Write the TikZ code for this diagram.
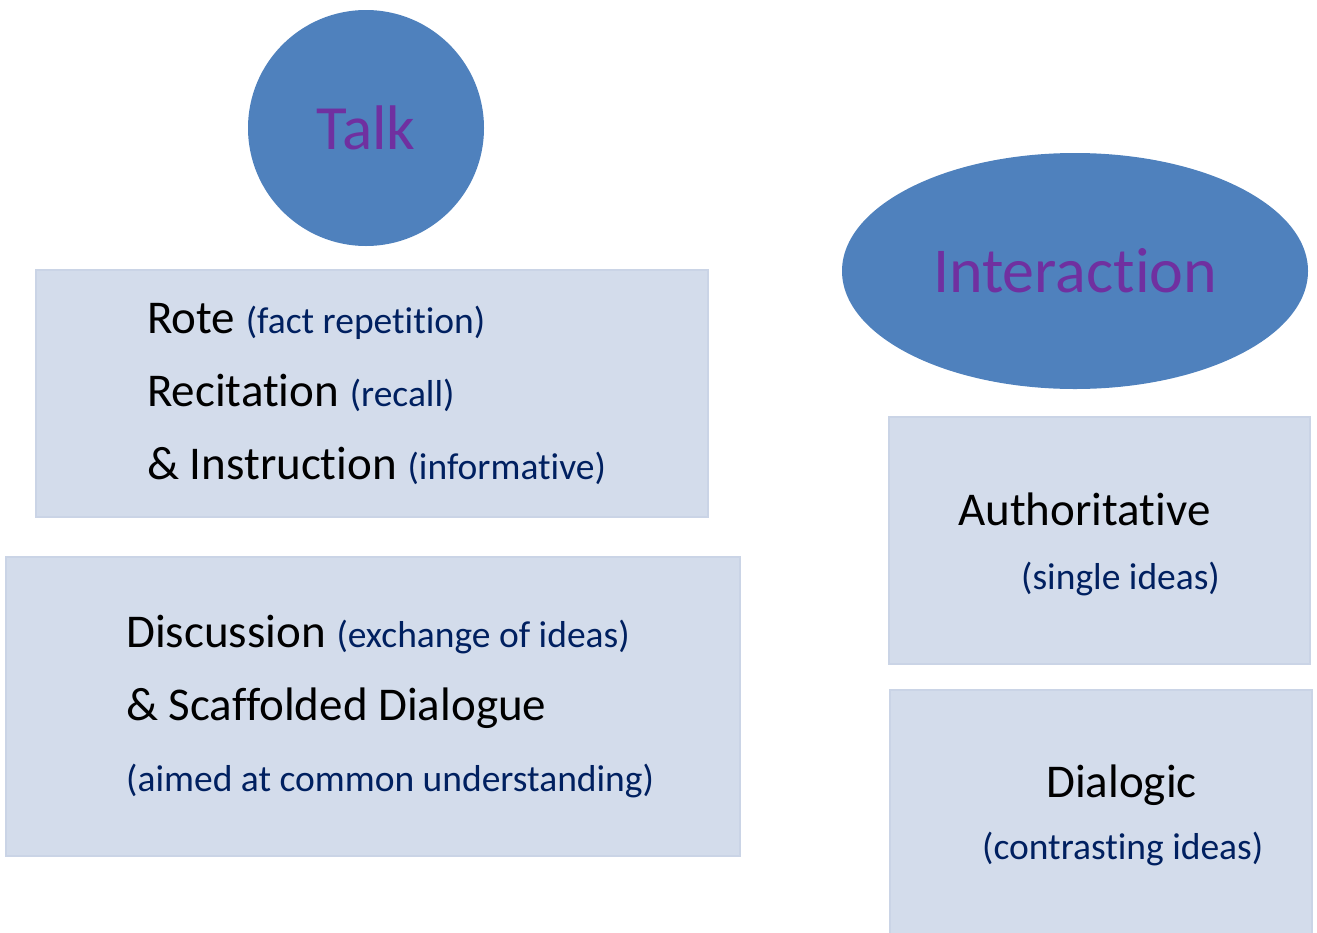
\documentclass[tikz,border=0pt]{standalone}
\usepackage{fontspec}
\setmainfont{Carlito}[Ligatures=NoCommon, RawFeature={-liga;-clig;-calt}]
\usetikzlibrary{shapes.geometric}
\definecolor{shapeBlue}{RGB}{79,129,189}
\definecolor{titlePurple}{RGB}{112,48,160}
\definecolor{boxFill}{RGB}{211,220,235}
\definecolor{boxEdge}{RGB}{202,212,230}
\definecolor{noteBlue}{RGB}{0,32,96}

\newcommand{\bigtext}{\fontsize{47}{52}\selectfont}
\newcommand{\notetext}{\fontsize{37.5}{43}\selectfont}

\tikzset{
	infobox/.style={draw=boxEdge, line width=1.2pt, fill=boxFill, inner sep=0pt},
	line/.style={anchor=base west, inner sep=0pt, font=\bigtext},
	note/.style={text=noteBlue, font=\notetext}
}

\begin{document}
\begin{tikzpicture}[x=1pt, y=-1pt]

% Fix the page.

	\useasboundingbox (0,0) rectangle (1317,932);

% Draw titles.

	\node[circle, fill=shapeBlue, minimum size=236pt, inner sep=0pt, text=titlePurple, font=\fontsize{63}{68}\selectfont] (talk) at (366,128) {Talk};
	\node[ellipse, fill=shapeBlue, minimum width=466pt, minimum height=236pt, inner sep=0pt, text=titlePurple, font=\fontsize{64}{70}\selectfont] (interaction) at (1075,271) {Interaction};

% Draw boxes.

	\node[infobox, minimum width=672pt, minimum height=247pt] (talkBoxA) at (372,393.5) {};
	\node[infobox, minimum width=734pt, minimum height=299pt] (talkBoxB) at (373,706.5) {};
	\node[infobox, minimum width=421pt, minimum height=247pt] (authBox) at (1099.5,540.5) {};
	\node[infobox, minimum width=422pt, minimum height=300pt] (dialBox) at (1101,840) {};

% Box texts.

	%talk, first box
	\node[line] (rote) at (147,333) {Rote {\color{noteBlue}\notetext(fact repetition)}};
	\node[line] (recitation) at (147,406) {Recitation {\color{noteBlue}\notetext(recall)}};
	\node[line] (instruction) at (147,479) {\& Instruction {\color{noteBlue}\notetext(informative)}};

	%talk, second box
	\node[line] (discussion) at (126,647) {Discussion {\color{noteBlue}\notetext(exchange of ideas)}};
	\node[line] (scaffolded) at (126,720) {\& Scaffolded Dialogue};
	\node[line, note] (common) at (126,791) {(aimed at common understanding)};

	%interaction boxes
	\node[line] (authoritative) at (958,525) {Authoritative};
	\node[line, note] (single) at (1021,589) {(single ideas)};
	\node[line] (dialogic) at (1046,797) {Dialogic};
	\node[line, note] (contrasting) at (982,859) {(contrasting ideas)};

\end{tikzpicture}
\end{document}
